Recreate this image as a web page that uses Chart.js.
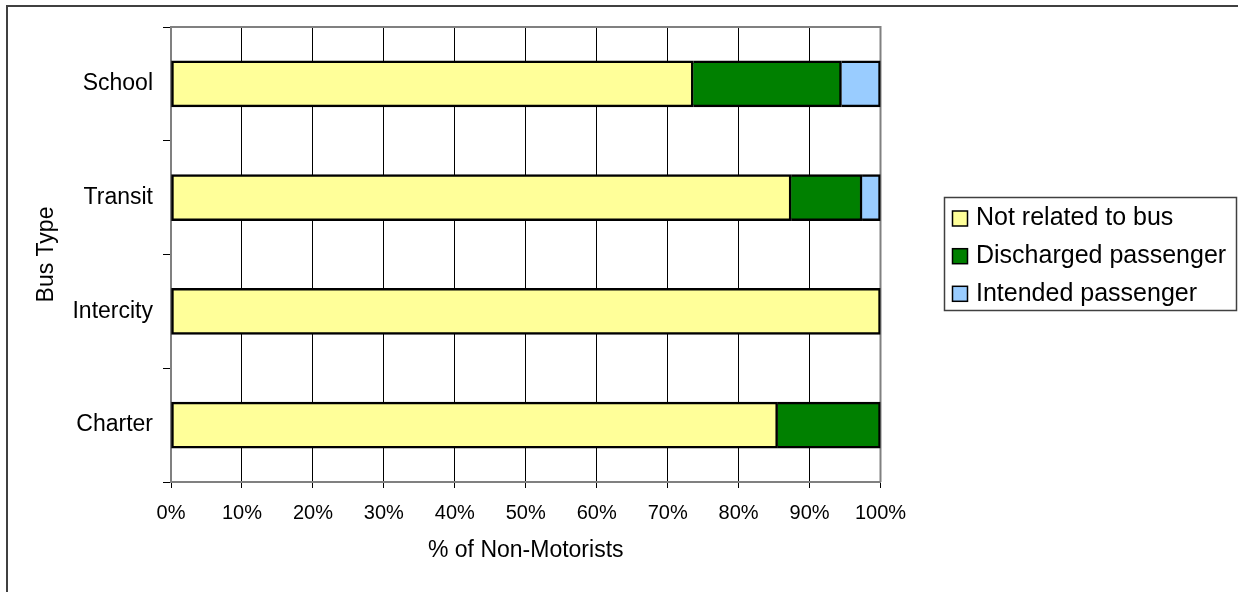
<!DOCTYPE html>
<html>
<head>
<meta charset="utf-8">
<script src="https://cdn.jsdelivr.net/npm/chart.js@4/dist/chart.umd.min.js"></script>
<style>
  html, body { margin: 0; padding: 0; background: #ffffff; }
  #wrap { width: 1238px; height: 592px; }
</style>
</head>
<body>
<div id="wrap"><canvas id="chart" width="1238" height="592"></canvas></div>
<script>
// Bus types, top to bottom
const busTypes = ['School', 'Transit', 'Intercity', 'Charter'];

// Share of non-motorists (%) by relation to the bus
const notRelated = [73.6, 87.4, 100, 85.5];
const discharged = [20.9, 10.0, null, 14.5];
const intended   = [5.5, 2.6, null, null];

const seriesNames  = ['Not related to bus', 'Discharged passenger', 'Intended passenger'];
const seriesColors = ['#FFFF99', '#008000', '#99CCFF'];

const FONT = "'Liberation Sans', Arial, sans-serif";

// White page with the outer frame (left and top edges are visible)
const framePlugin = {
  id: 'frame',
  beforeDraw(chart) {
    const ctx = chart.ctx;
    ctx.save();
    ctx.fillStyle = '#ffffff';
    ctx.fillRect(0, 0, chart.width, chart.height);
    ctx.strokeStyle = '#404040';
    ctx.lineWidth = 2;
    ctx.beginPath();
    ctx.moveTo(7, chart.height + 5);
    ctx.lineTo(7, 6);
    ctx.lineTo(chart.width + 5, 6);
    ctx.stroke();
    ctx.restore();
  },
  // gray plot-area outline over the grid, under the bars
  beforeDatasetsDraw(chart) {
    const a = chart.chartArea;
    const ctx = chart.ctx;
    ctx.save();
    ctx.strokeStyle = '#808080';
    ctx.lineWidth = 2;
    ctx.beginPath();
    ctx.moveTo(a.left, a.top);
    ctx.lineTo(a.right, a.top);
    ctx.lineTo(a.right, a.bottom);
    ctx.stroke();
    ctx.restore();
  }
};

// Boxed legend to the right of the plot
const boxLegendPlugin = {
  id: 'boxLegend',
  afterDraw(chart) {
    const ctx = chart.ctx;
    const box = { x: 944, y: 197, w: 292, h: 113 };
    ctx.save();
    ctx.strokeStyle = '#404040';
    ctx.lineWidth = 1.5;
    ctx.strokeRect(box.x + 0.5, box.y + 0.5, box.w, box.h);
    const rowY = [218.5, 256.2, 293.8];
    ctx.font = '25px ' + FONT;
    ctx.textBaseline = 'middle';
    ctx.textAlign = 'left';
    chart.data.datasets.forEach((ds, i) => {
      const cy = rowY[i];
      ctx.fillStyle = ds.backgroundColor;
      ctx.fillRect(952.5, cy - 7.5, 15, 15);
      ctx.strokeStyle = '#000000';
      ctx.lineWidth = 1.5;
      ctx.strokeRect(952.5, cy - 7.5, 15, 15);
      ctx.fillStyle = '#000000';
      ctx.fillText(ds.label, 976, cy);
    });
    ctx.restore();
  }
};

const seriesData = [notRelated, discharged, intended];

const datasets = seriesNames.map((name, i) => ({
  label: name,
  data: seriesData[i],
  backgroundColor: seriesColors[i],
  borderColor: '#000000',
  borderWidth: 2.5,
  borderSkipped: i === 0 ? false : 'left',
  barThickness: 46
}));

new Chart(document.getElementById('chart'), {
  type: 'bar',
  data: { labels: busTypes, datasets },
  options: {
    indexAxis: 'y',
    responsive: false,
    devicePixelRatio: 1,
    animation: false,
    layout: { padding: { left: 33, top: 27, right: 357.5, bottom: 28 } },
    plugins: {
      legend: { display: false },
      tooltip: { enabled: false }
    },
    scales: {
      x: {
        type: 'linear',
        stacked: true,
        min: 0,
        max: 100,
        ticks: {
          stepSize: 10,
          callback: v => v + '%',
          color: '#000000',
          font: { family: FONT, size: 20 },
          padding: 13,
          maxRotation: 0
        },
        grid: { color: '#000000', lineWidth: 1, tickLength: 6, drawTicks: true },
        border: { color: '#808080', width: 2 },
        title: {
          display: true,
          text: '% of Non-Motorists',
          color: '#000000',
          font: { family: FONT, size: 23 },
          padding: 0
        },
        afterFit(scale) { scale.height = 82; }
      },
      y: {
        type: 'category',
        stacked: true,
        offset: true,
        ticks: {
          color: '#000000',
          font: { family: FONT, size: 23 },
          padding: 10
        },
        grid: {
          offset: true,
          drawOnChartArea: false,
          drawTicks: true,
          tickLength: 8,
          color: '#000000',
          lineWidth: 1
        },
        border: { color: '#808080', width: 2 },
        title: {
          display: true,
          text: 'Bus Type',
          color: '#000000',
          font: { family: FONT, size: 23 },
          padding: 0
        },
        afterFit(scale) { scale.width = 138; }
      }
    }
  },
  plugins: [framePlugin, boxLegendPlugin]
});
</script>
</body>
</html>
